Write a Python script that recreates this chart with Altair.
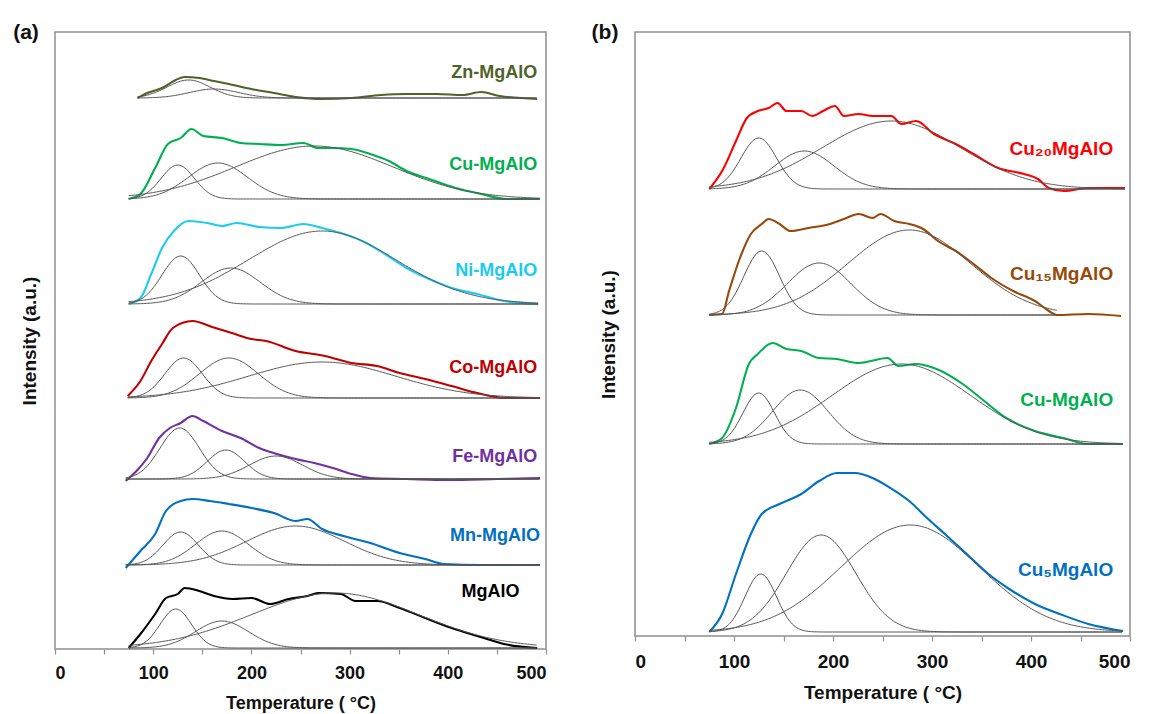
import altair as alt
import numpy as np
import pandas as pd

FONT = "Liberation Sans"
FIT_COLOR = "#555555"

# ---------------- Panel (a) ----------------
A_SAMPLES = ["Zn-MgAlO", "Cu-MgAlO", "Ni-MgAlO", "Co-MgAlO", "Fe-MgAlO", "Mn-MgAlO", "MgAlO"]
A_COLORS = ["#4F6228", "#00B050", "#1CCBF0", "#C00000", "#7030A0", "#0070C0", "#000000"]
A_OFFSETS = [551, 450, 345, 251, 170, 84, 1]

ZN_T = [84, 94, 109, 121, 132, 147, 162, 177, 200, 223, 245, 272, 302, 332, 358, 389, 415, 434, 453, 491]
ZN_H = [0, 5, 10, 17, 21, 20, 17, 14, 9, 5, 1, -1, 0, 3, 4, 4, 3, 6, 2, -1]
CUA_T = [75, 87, 102, 115, 128, 139, 151, 170, 189, 208, 230, 253, 268, 283, 302, 321, 340, 358, 381, 408, 434, 460, 494]
CUA_H = [0, 5, 31, 55, 61, 70, 63, 61, 56, 55, 54, 56, 51, 51, 50, 45, 38, 28, 20, 11, 5, 0, 0]
NI_T = [75, 87, 98, 109, 121, 136, 155, 170, 185, 208, 230, 253, 272, 291, 313, 336, 358, 381, 404, 430, 457, 492]
NI_H = [0, 6, 30, 56, 73, 83, 81, 78, 81, 77, 76, 80, 76, 71, 63, 50, 36, 25, 16, 10, 3, 0]
CO_T = [74, 87, 98, 109, 120, 140, 160, 180, 200, 215, 245, 275, 302, 328, 351, 377, 404, 430, 460, 494]
CO_H = [2, 17, 37, 54, 70, 77, 71, 65, 59, 57, 47, 42, 35, 32, 25, 19, 12, 5, 0, 0]
FE_T = [72, 83, 94, 106, 117, 128, 140, 151, 170, 189, 208, 226, 245, 264, 283, 302, 321, 358, 400, 450, 494]
FE_H = [-2, 8, 21, 41, 51, 56, 63, 58, 48, 41, 31, 25, 20, 16, 11, 5, 1, 0, -1, 0, 1]
MN_T = [72, 87, 102, 113, 128, 140, 158, 177, 200, 223, 245, 257, 272, 294, 321, 351, 377, 396, 434, 494]
MN_H = [-3, 14, 31, 54, 64, 66, 64, 61, 57, 52, 44, 46, 36, 29, 22, 12, 6, 1, 0, 0]
MG_T = [75, 87, 102, 113, 125, 132, 147, 162, 181, 200, 219, 238, 257, 268, 291, 306, 328, 351, 377, 404, 430, 457, 491]
MG_H = [0, 14, 34, 50, 54, 60, 57, 52, 49, 50, 44, 49, 52, 55, 54, 47, 47, 40, 30, 20, 12, 4, 0]

# deconvoluted peaks: (centre °C, height, width sigma °C)
ZN_PEAKS = [(136, 18, 22), (162, 9, 25)]
CUA_PEAKS = [(125, 34, 17), (166, 36, 30), (264, 53, 80)]
NI_PEAKS = [(128, 48, 19), (179, 36, 30), (272, 73, 75)]
CO_PEAKS = [(131, 40, 19), (177, 40, 30), (272, 36, 75)]
FE_PEAKS = [(127, 51, 20), (174, 29, 19), (225, 23, 27)]
MN_PEAKS = [(128, 33, 18), (170, 34, 27), (245, 39, 50)]
MG_PEAKS = [(123, 39, 16), (170, 27, 27), (285, 55, 85)]

A_LABEL_T = [491, 491, 491, 491, 491, 494, 473]
A_LABEL_I = [576, 484, 378, 281, 192, 113, 57]

# ---------------- Panel (b) ----------------
B_SAMPLES = ["Cu₂₀MgAlO", "Cu₁₅MgAlO", "Cu-MgAlO", "Cu₅MgAlO"]
B_COLORS = ["#FF0000", "#984807", "#00B050", "#0070C0"]
B_OFFSETS = [447, 321, 192, 4]

CU20_T = [75, 88, 102, 113, 124, 135, 144, 153, 168, 179, 190, 202, 211, 226, 240, 259, 269, 284, 302, 324, 342, 367, 393, 407, 418, 433, 458, 495]
CU20_H = [0, 18, 48, 71, 78, 81, 86, 78, 78, 73, 78, 83, 73, 75, 73, 73, 65, 68, 55, 45, 35, 21, 15, 10, 1, -2, 1, 1]
CU15_T = [75, 88, 95, 106, 117, 128, 135, 146, 157, 175, 197, 211, 226, 240, 248, 262, 277, 291, 306, 324, 342, 360, 382, 404, 418, 426, 458, 491]
CU15_H = [0, 1, 24, 57, 81, 91, 96, 91, 84, 87, 91, 96, 101, 97, 101, 94, 91, 86, 74, 64, 51, 37, 24, 14, 4, 0, 1, -1]
CUB_T = [75, 88, 102, 115, 124, 139, 153, 168, 186, 204, 226, 255, 266, 284, 302, 331, 349, 375, 404, 433, 458, 493]
CUB_H = [0, 6, 36, 80, 90, 101, 95, 93, 86, 85, 81, 86, 78, 80, 76, 60, 46, 26, 13, 6, 0, 0]
CU5_T = [75, 88, 102, 117, 128, 146, 168, 186, 204, 222, 240, 258, 277, 295, 313, 335, 357, 378, 404, 429, 458, 493]
CU5_H = [0, 18, 58, 98, 118, 128, 138, 151, 159, 159, 154, 144, 131, 114, 98, 78, 58, 43, 28, 18, 8, 1]

CU20_PEAKS = [(125, 51, 18), (171, 38, 30), (259, 68, 70)]
CU15_PEAKS = [(128, 64, 18), (186, 52, 32), (277, 85, 62)]
CUB_PEAKS = [(125, 51, 16), (167, 54, 28), (269, 80, 70)]
CU5_PEAKS = [(127, 58, 16), (188, 97, 35), (278, 107, 70)]
CU15_FIT_END = 426

B_LABEL_T = [483, 483, 483, 483]
B_LABEL_I = [487, 362, 236, 66]


def build_frames(samples, colors, offsets, series, peaks, fit_ends):
    curves, fits = [], []
    for s, c, off, (ts, hs), pk, fend in zip(samples, colors, offsets, series, peaks, fit_ends):
        curves.append(pd.DataFrame({"T": ts, "I": [off + h for h in hs], "sample": s, "color": c}))
        grid = np.arange(ts[0], fend + 0.01, 1.5)
        for k, (mu, amp, sig) in enumerate(pk):
            fits.append(pd.DataFrame({
                "T": grid,
                "I": off + amp * np.exp(-((grid - mu) ** 2) / (2 * sig ** 2)),
                "key": f"{s}-{k}",
            }))
    return pd.concat(curves), pd.concat(fits)


def panel(curves, fits, labels, tag, width, height, ymax, fs_lab, fs_title, fs_ytitle,
          lab_pad, title_pad, ytitle_pad, tag_x, fs_text):
    xenc = alt.X("T:Q", scale=alt.Scale(domain=[0, 500], nice=False),
                 axis=alt.Axis(values=list(range(0, 501, 50)),
                               labelExpr="datum.value % 100 == 0 ? datum.label : ''",
                               title="Temperature ( °C)", grid=False, domain=False,
                               tickColor="#8f8f8f", tickSize=5, tickWidth=1.2,
                               labelFont=FONT, labelFontWeight="bold", labelFontSize=fs_lab,
                               labelColor="#111111", labelPadding=lab_pad,
                               titleFont=FONT, titleFontWeight="bold", titleFontSize=fs_title,
                               titleColor="#111111", titlePadding=title_pad))
    yenc = alt.Y("I:Q", scale=alt.Scale(domain=[0, ymax], nice=False),
                 axis=alt.Axis(labels=False, ticks=False, domain=False, grid=False,
                               title="Intensity (a.u.)", titleFont=FONT, titleFontWeight="bold",
                               titleFontSize=fs_ytitle, titleColor="#111111",
                               titlePadding=ytitle_pad))
    base_curves = alt.Chart(curves).mark_line(strokeWidth=2.1, interpolate="monotone").encode(
        x=xenc, y=yenc, color=alt.Color("color:N", scale=None), detail="sample:N")
    base_fits = alt.Chart(fits).mark_line(strokeWidth=1, color=FIT_COLOR).encode(
        x="T:Q", y="I:Q", detail="key:N")
    texts = alt.Chart(labels).mark_text(align="right", baseline="middle", font=FONT,
                                        fontWeight="bold", fontSize=fs_text).encode(
        x="T:Q", y="I:Q", text="text:N", color=alt.Color("color:N", scale=None))
    tagc = alt.Chart(pd.DataFrame({"t": [tag]})).mark_text(
        align="center", baseline="middle", font=FONT, fontWeight="bold", fontSize=21,
        color="#111111").encode(x=alt.value(tag_x), y=alt.value(1), text="t:N")
    return alt.layer(base_curves, base_fits, texts, tagc).properties(width=width, height=height)


a_series = [(ZN_T, ZN_H), (CUA_T, CUA_H), (NI_T, NI_H), (CO_T, CO_H), (FE_T, FE_H), (MN_T, MN_H), (MG_T, MG_H)]
a_peaks = [ZN_PEAKS, CUA_PEAKS, NI_PEAKS, CO_PEAKS, FE_PEAKS, MN_PEAKS, MG_PEAKS]
a_ends = [t[-1] for t, _ in a_series]
a_curves, a_fits = build_frames(A_SAMPLES, A_COLORS, A_OFFSETS, a_series, a_peaks, a_ends)
a_labels = pd.DataFrame({"T": A_LABEL_T, "I": A_LABEL_I, "text": A_SAMPLES, "color": A_COLORS})

b_series = [(CU20_T, CU20_H), (CU15_T, CU15_H), (CUB_T, CUB_H), (CU5_T, CU5_H)]
b_peaks = [CU20_PEAKS, CU15_PEAKS, CUB_PEAKS, CU5_PEAKS]
b_ends = [CU20_T[-1], CU15_FIT_END, CUB_T[-1], CU5_T[-1]]
b_curves, b_fits = build_frames(B_SAMPLES, B_COLORS, B_OFFSETS, b_series, b_peaks, b_ends)
b_labels = pd.DataFrame({"T": B_LABEL_T, "I": B_LABEL_I, "text": B_SAMPLES, "color": B_COLORS})

pa = panel(a_curves, a_fits, a_labels, "(a)", 491, 617, 617, 18, 18, 19, 10, 12, 16, -29, 18)
pb = panel(b_curves, b_fits, b_labels, "(b)", 495, 604, 604, 19, 19, 19, 11, 12, 17, -30, 19)

chart = alt.hconcat(pa, pb, spacing=42).configure_view(
    stroke="#8f8f8f", strokeWidth=1.5).properties(
    padding={"left": 4, "top": 13, "right": 0, "bottom": 0}, background="white")

chart.save("out.html", embed_options={"renderer": "svg", "actions": False})
